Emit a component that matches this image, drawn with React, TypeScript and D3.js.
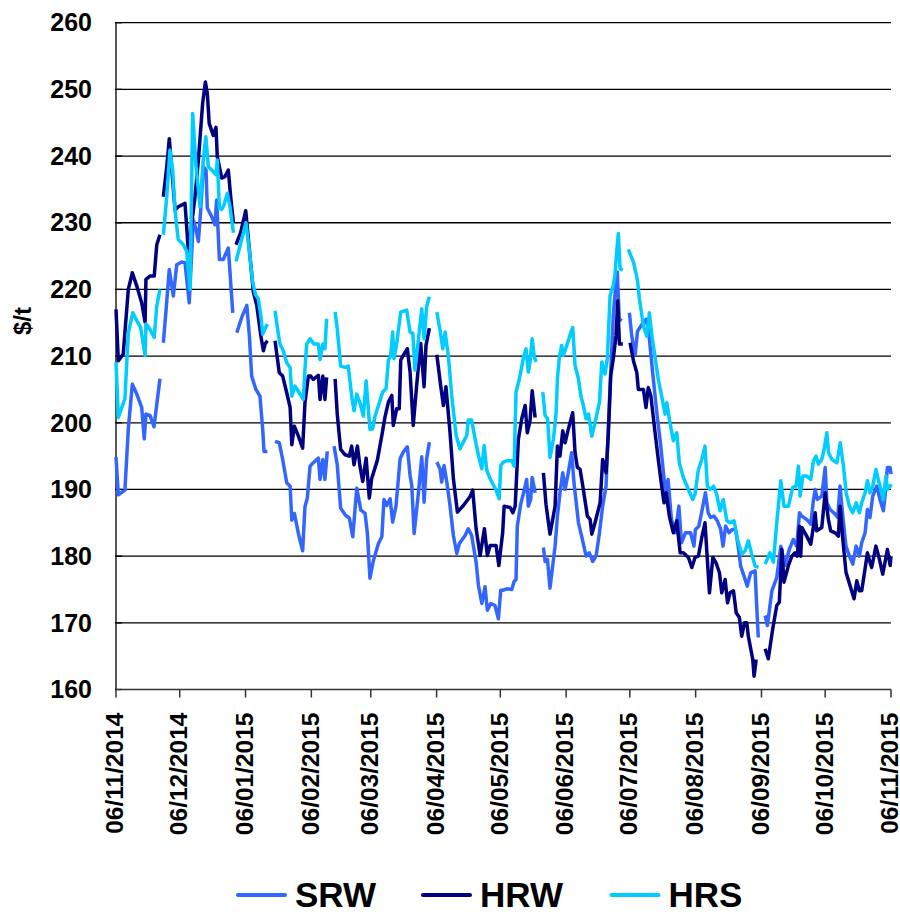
import React from "react";
import * as d3 from "d3";

// X tick labels (DD/MM/YYYY)
const xTickLabels = [
  "06/11/2014", "06/12/2014", "06/01/2015", "06/02/2015", "06/03/2015", "06/04/2015",
  "06/05/2015", "06/06/2015", "06/07/2015", "06/08/2015", "06/09/2015", "06/10/2015", "06/11/2015",
];
const yTicks = [160, 170, 180, 190, 200, 210, 220, 230, 240, 250, 260];
const seriesNames = ["SRW", "HRW", "HRS"];
const seriesColors = ["#3366FF", "#000080", "#00CCFF"];

// [days since 06/11/2014, $/t]  (null = missing day -> gap)
const SRW: [number, number | null][] = [
  [0, 194.9], [1.1, 189.2], [4.2, 189.9], [5.8, 199.1], [7.7, 205.8], [9.8, 204.3], [12.1, 202.3], [13.3, 197.6], [14.1, 201.3], [16.0, 201.1], [17.9, 199.4], [20.7, 206.6], [21.5, null],
  [22.3, 212.0], [23.6, 217.0], [25.1, 223.0], [27.0, 219.0], [28.6, 223.7], [30.9, 224.1], [32.5, 224.0], [34.5, 218.0], [36.4, 230.4], [37.7, 229.0], [38.8, 227.2], [39.9, 231.9], [41.1, 238.4], [42.4, 237.9], [43.0, 232.2], [45.1, 230.9], [46.6, 229.7], [47.4, 233.4], [48.7, 224.5], [50.5, 224.5], [52.9, 226.2], [55.0, 216.5], [55.8, null],
  [56.9, 213.5], [59.2, 215.8], [61.6, 217.6], [62.8, 213.1], [63.9, 207.0], [65.9, 205.0], [67.8, 204.0], [69.1, 199.0], [69.7, 195.7], [71.3, 195.7], [73, null],
  [74.9, 197.2], [76.9, 197.0], [78.5, 194.5], [80.4, 191.0], [82.0, 190.5], [82.8, 185.4], [84.0, 186.4], [85.9, 183.4], [87.9, 180.8], [89.0, 187.4], [90.1, 188.7], [91.4, 193.5], [92.9, 194.0], [95.3, 194.7], [96.1, 191.5], [97.4, 194.5], [98.4, 191.5], [99.5, 195.7], [101, null],
  [102.7, 196.5], [104.2, 193.7], [105.8, 187.2], [107.9, 186.2], [109.9, 185.7], [111.5, 182.9], [113.4, 190.2], [115.3, 186.9], [117.3, 186.4], [118.4, 183.4], [119.6, 176.7], [121.2, 179.3], [123.6, 181.9], [125.2, 182.9], [126.2, 188.5], [127.5, 187.6], [129.1, 188.6], [130.3, 185.1], [131.9, 187.6], [133.8, 194.6], [135.3, 195.6], [137.2, 196.4], [138.5, 192.1], [139.3, 190.6], [140.4, 183.4], [142.4, 189.4], [144.0, 194.9], [145.1, 188.1], [146.3, 194.6], [147.6, 197.1], [149.5, null],
  [151.1, 194.1], [152.6, 193.1], [153.4, 191.1], [154.5, 193.6], [155.8, 191.1], [157.3, 187.6], [158.9, 183.1], [160.5, 180.4], [161.7, 181.9], [164.4, 183.1], [165.9, 184.1], [167.5, 183.1], [169.6, 179.1], [170.7, 175.6], [172.3, 172.9], [173.8, 175.4], [174.9, 171.9], [176.5, 172.9], [178.5, 172.6], [180.1, 170.6], [181.2, 174.9], [182.4, 174.9], [184.0, 175.1], [186.4, 175.0], [187.5, 176.2], [188.4, 176.5], [189.0, 184.5], [190.6, 187.8], [192.2, 189.8], [193.4, 191.5], [194.2, 187.5], [195.3, 188.5], [196.0, 191.8], [197.4, 189.5], [199, null],
  [201.3, 181.3], [202.1, 179.2], [203.2, 179.5], [204.4, 175.2], [206.8, 181.5], [207.9, 186.0], [209.1, 189.5], [210.4, 192.5], [211.5, 190.0], [213.0, 192.5], [214.6, 195.5], [215.7, 191.0], [217.8, 185.0], [219.3, 183.0], [221.4, 180.0], [222.9, 180.5], [224.5, 179.2], [226.1, 180.0], [227.7, 183.5], [229.2, 187.5], [230.8, 190.5], [231.9, 199.5], [233.0, 207.6], [234.2, 216.1], [235.5, 221.1], [236.1, 222.6], [237.0, 215.6], [238.2, 215.3], [240, null],
  [241.8, 216.5], [242.9, 213.0], [244.5, 210.2], [245.6, 213.7], [247.6, 214.7], [249.7, 215.5], [250.9, 213.7], [252.2, 209.3], [253.3, 205.8], [254.9, 201.0], [256.4, 197.0], [258.0, 192.0], [258.8, 189.5], [260.0, 191.5], [261.6, 185.5], [263.5, 183.5], [265.1, 187.5], [266.3, 182.0], [268.2, 183.5], [270.6, 183.5], [272.2, 181.5], [272.9, 184.0], [274.5, 184.5], [276.1, 187.0], [277.6, 189.5], [278.9, 186.5], [280.0, 185.8], [281.6, 186.0], [283.2, 185.3], [284.8, 184.0], [285.9, 181.5], [287.1, 184.5], [288.7, 183.5], [290.3, 184.0], [291.8, 184.0], [293.1, 181.3], [294.2, 178.5], [295.8, 177.0], [297.3, 175.5], [298.9, 177.5], [301.0, 177.8], [301.6, 173.5], [302.5, 167.8], [303.5, null],
  [305.7, 171.1], [306.8, 169.6], [308.9, 174.8], [311.2, 176.8], [313.1, 181.5], [315.1, 178.6], [317.1, 181.0], [319.0, 182.5], [320.6, 181.5], [321.9, 186.5], [323.0, 186.0], [325.3, 185.5], [327.2, 184.8], [328.5, 188.5], [329.3, 190.0], [330.3, 188.5], [332.4, 189.0], [334.0, 193.3], [334.8, 188.0], [336.3, 187.0], [338.7, 186.3], [339.9, 185.8], [341.0, 190.5], [342.3, 186.0], [343.8, 181.5], [345.4, 180.0], [347.0, 178.8], [348.6, 181.5], [350.1, 180.0], [351.2, 182.0], [352.8, 183.5], [353.9, 187.0], [355.1, 185.8], [356.4, 189.0], [358.3, 190.5], [359.8, 188.5], [361.4, 186.8], [362.2, 189.0], [363.3, 193.3], [364.6, 193.3], [365, 192.3],
];

const HRW: [number, number | null][] = [
  [0, 217.0], [1.1, 209.3], [3.4, 210.3], [5.8, 220.0], [7.7, 222.5], [9.8, 220.5], [12.1, 218.0], [13.7, 215.1], [14.1, 221.5], [16.0, 222.0], [18.0, 222.0], [19.2, 226.7], [20.7, 228.2], [21.5, null],
  [22.3, 233.9], [23.9, 238.4], [25.1, 242.6], [26.2, 238.4], [27.8, 231.9], [29.3, 232.4], [32.5, 232.9], [34.1, 225.7], [37.2, 233.9], [38.8, 239.4], [40.8, 247.9], [42.1, 251.1], [43.0, 249.4], [43.9, 244.9], [45.8, 243.1], [47.1, 244.3], [47.7, 239.9], [49.8, 236.7], [51.3, 236.9], [52.9, 237.9], [54.0, 233.9], [55.3, 230.0], [55.9, null],
  [56.5, 226.7], [58.7, 228.5], [61.1, 231.8], [62.8, 226.0], [64.7, 219.6], [66.3, 217.6], [68.2, 213.1], [69.4, 210.8], [70.2, 211.8], [71.3, 212.3], [73, null],
  [74.9, 212.3], [76.9, 207.5], [78.5, 207.0], [80.4, 204.5], [82.0, 202.3], [82.8, 196.7], [84.0, 199.5], [85.9, 198.0], [87.9, 196.2], [89.0, 203.0], [90.6, 207.0], [91.7, 207.0], [92.9, 206.5], [95.3, 207.1], [96.1, 203.5], [97.4, 207.0], [98.4, 203.5], [99.2, 206.8], [101, null],
  [103.2, 206.6], [104.2, 201.3], [105.8, 196.0], [107.9, 195.2], [109.9, 195.0], [111.0, 196.5], [112.1, 193.7], [113.7, 196.5], [114.9, 193.5], [116.2, 191.2], [117.8, 194.7], [119.3, 188.7], [120.4, 191.6], [123.1, 194.4], [125.2, 198.1], [126.7, 200.9], [128.3, 203.1], [129.9, 204.1], [130.6, 199.6], [132.2, 202.1], [133.4, 202.1], [134.1, 209.4], [135.3, 210.1], [137.2, 211.1], [138.5, 207.6], [140.0, 199.6], [141.6, 205.6], [143.5, 211.9], [145.1, 205.4], [146.0, 211.6], [147.6, 214.2], [149.5, null],
  [151.1, 210.2], [152.9, 205.6], [154.2, 202.6], [155.4, 205.4], [157.3, 198.6], [158.9, 191.6], [160.8, 186.6], [163.6, 187.6], [166.7, 188.9], [168.0, 189.9], [169.6, 184.1], [171.5, 180.1], [173.5, 184.1], [174.9, 180.1], [176.2, 181.6], [179.0, 181.6], [180.3, 178.6], [182.1, 183.5], [182.8, 187.5], [185.6, 187.3], [186.9, 186.5], [188.0, 187.5], [189.5, 197.5], [191.1, 200.6], [192.7, 202.6], [193.7, 198.5], [195.0, 200.3], [196.0, 204.8], [197.4, 200.8], [199, null],
  [201.3, 192.5], [202.5, 187.8], [204.4, 183.3], [206.8, 187.5], [207.9, 196.5], [209.1, 195.0], [210.4, 198.8], [211.5, 197.0], [213.0, 199.0], [215.1, 201.5], [216.2, 195.5], [217.3, 193.3], [218.6, 193.0], [220.1, 190.0], [222.0, 186.0], [223.3, 185.5], [224.1, 183.3], [225.6, 185.0], [228.0, 188.0], [229.2, 194.5], [230.8, 192.5], [231.9, 198.5], [233.0, 207.1], [234.2, 209.6], [235.5, 213.1], [236.3, 218.3], [237.1, 211.8], [238.7, 211.8], [240, null],
  [242.1, 212.0], [243.7, 209.3], [245.3, 207.5], [246.0, 205.0], [248.4, 205.0], [249.6, 202.3], [250.7, 205.3], [251.9, 204.0], [253.9, 198.5], [255.4, 194.5], [257.0, 190.5], [258.1, 188.0], [259.1, 189.5], [260.6, 186.0], [262.5, 183.5], [264.1, 185.3], [265.7, 180.5], [267.2, 180.5], [269.6, 179.8], [271.2, 178.3], [272.7, 179.8], [274.3, 180.0], [275.9, 182.8], [277.4, 185.0], [279.5, 174.5], [281.1, 179.8], [282.6, 179.0], [284.2, 177.5], [285.3, 174.5], [286.9, 176.5], [288.0, 173.0], [289.2, 174.5], [290.8, 174.8], [292.1, 171.5], [293.6, 170.8], [294.7, 168.0], [296.0, 170.0], [297.1, 170.0], [297.8, 168.0], [299.0, 166.0], [299.9, 164.5], [300.5, 162.0], [301.5, 164.5], [303, null],
  [305.7, 166.1], [307.2, 164.6], [309.3, 169.1], [311.2, 172.6], [312.4, 173.1], [313.6, 181.0], [314.6, 176.1], [316.7, 178.6], [318.3, 180.0], [319.8, 180.5], [320.9, 180.0], [321.9, 184.5], [322.5, 180.0], [323.0, 184.3], [325.3, 183.0], [327.2, 181.8], [328.5, 184.5], [329.3, 186.5], [330.0, 183.8], [332.4, 184.3], [334.0, 189.5], [335.5, 185.5], [336.6, 183.8], [338.7, 183.5], [340.2, 183.0], [341.0, 187.5], [342.3, 182.5], [343.8, 177.6], [345.7, 175.6], [347.6, 173.6], [348.9, 176.3], [350.1, 174.8], [351.2, 174.8], [352.8, 178.1], [353.9, 180.5], [355.1, 179.1], [355.9, 178.3], [357.9, 181.5], [359.5, 179.6], [361.1, 177.3], [362.2, 179.1], [363.3, 181.0], [364.6, 178.6], [365, 180.0],
];

const HRS: [number, number | null][] = [
  [0, 209.1], [1.1, 200.8], [4.2, 203.6], [5.8, 213.5], [7.9, 216.5], [9.8, 215.3], [11.6, 214.3], [13.7, 210.1], [14.1, 214.8], [16.0, 214.0], [18.0, 212.8], [19.2, 217.5], [20.7, 220.0], [21.5, null],
  [22.3, 228.2], [23.9, 233.9], [25.4, 240.9], [26.7, 237.9], [27.8, 231.9], [29.3, 227.5], [31.7, 226.7], [33.3, 225.7], [34.9, 220.0], [36.1, 246.4], [37.7, 238.4], [39.6, 232.4], [41.1, 239.4], [42.3, 242.9], [43.5, 238.4], [45.1, 237.9], [47.1, 237.2], [47.7, 239.4], [48.7, 232.2], [49.8, 232.0], [50.9, 232.7], [52.4, 234.4], [53.7, 232.4], [55.3, 228.5], [55.9, null],
  [56.5, 224.2], [58.4, 226.5], [61.2, 230.0], [63.1, 225.0], [64.3, 221.2], [65.7, 219.2], [67.0, 218.6], [68.2, 216.1], [69.1, 213.3], [70.2, 214.1], [71.3, 214.8], [73, null],
  [74.9, 216.8], [76.0, 214.3], [77.2, 211.8], [78.8, 210.8], [80.4, 209.0], [82.0, 208.3], [82.8, 204.0], [84.3, 205.5], [86.3, 204.5], [88.2, 203.5], [89.0, 208.0], [89.8, 211.8], [91.4, 212.6], [93.3, 211.8], [95.3, 211.8], [96.1, 209.5], [97.4, 211.8], [98.4, 211.1], [99.2, 215.6], [101, null],
  [103.2, 216.6], [104.2, 214.1], [105.8, 208.5], [107.9, 208.3], [109.4, 208.5], [111.0, 204.0], [112.1, 201.8], [113.4, 204.3], [114.9, 203.0], [116.5, 201.0], [117.8, 206.3], [119.6, 199.0], [120.9, 199.1], [122.0, 201.0], [123.6, 202.6], [125.6, 204.6], [127.2, 205.1], [128.3, 209.4], [129.4, 210.1], [130.3, 213.6], [130.9, 209.6], [132.2, 211.9], [134.1, 216.6], [136.9, 216.9], [138.5, 213.6], [139.8, 213.4], [140.8, 207.9], [142.4, 212.4], [144.0, 217.1], [145.1, 212.6], [146.3, 217.4], [147.6, 218.9], [149.5, null],
  [151.1, 216.6], [152.6, 213.9], [153.9, 211.1], [155.0, 213.6], [156.5, 210.1], [158.1, 204.1], [160.2, 198.1], [162.0, 196.1], [163.6, 197.1], [165.2, 198.1], [165.9, 200.4], [167.5, 200.4], [169.1, 197.6], [170.7, 195.1], [172.3, 193.1], [173.4, 196.6], [174.6, 192.9], [176.2, 191.6], [179.0, 189.9], [180.5, 188.6], [181.2, 193.6], [182.4, 194.1], [184.0, 194.3], [186.4, 194.3], [187.5, 193.5], [188.4, 204.6], [190.0, 206.6], [191.8, 209.6], [193.1, 211.1], [194.2, 207.6], [195.0, 209.1], [196.0, 212.6], [196.9, 210.1], [197.8, 209.1], [199.5, null],
  [201.0, 204.6], [202.1, 201.1], [203.3, 200.6], [204.4, 194.8], [206.0, 197.5], [207.3, 201.6], [207.9, 206.6], [208.8, 209.8], [209.9, 211.6], [210.7, 210.1], [212.3, 211.6], [213.8, 213.1], [215.1, 214.3], [216.2, 208.6], [217.8, 206.6], [218.9, 204.1], [220.1, 202.6], [221.4, 200.6], [222.5, 201.3], [224.1, 198.0], [225.6, 200.0], [227.7, 203.1], [228.8, 209.1], [230.3, 207.3], [231.4, 209.6], [232.7, 219.1], [234.2, 220.6], [235.0, 222.1], [235.8, 225.6], [236.6, 228.4], [237.4, 223.1], [238.7, 222.9], [240, null],
  [241.3, 226.0], [243.7, 224.1], [245.6, 221.4], [246.5, 218.6], [248.4, 214.5], [250.0, 213.0], [251.2, 216.5], [252.4, 213.0], [253.9, 209.8], [255.4, 206.5], [257.0, 204.0], [258.6, 201.3], [259.4, 203.0], [260.9, 200.0], [262.5, 197.3], [264.1, 198.5], [265.3, 194.0], [267.2, 191.8], [269.6, 190.0], [271.6, 188.5], [272.7, 189.3], [274.3, 193.0], [275.9, 194.5], [277.4, 196.5], [278.5, 190.5], [279.8, 190.0], [281.4, 190.5], [282.9, 189.3], [284.5, 186.8], [286.0, 188.5], [287.7, 185.3], [289.2, 185.0], [291.1, 185.3], [292.7, 182.5], [294.7, 180.3], [296.3, 180.8], [297.8, 182.3], [299.4, 180.3], [301.0, 178.5], [302.6, 178.3], [304, null],
  [305.7, 178.8], [308.0, 180.5], [309.6, 179.1], [311.2, 185.0], [313.1, 191.3], [314.6, 187.5], [316.7, 187.5], [318.7, 190.3], [320.3, 190.5], [321.4, 193.5], [322.2, 189.0], [323.5, 192.0], [325.3, 192.0], [327.2, 191.5], [328.5, 194.3], [329.7, 195.0], [330.8, 193.8], [332.4, 194.5], [333.5, 196.0], [334.8, 198.5], [335.6, 195.5], [337.2, 194.5], [339.5, 194.0], [341.1, 197.0], [342.6, 193.5], [343.9, 189.5], [345.4, 187.5], [347.0, 186.5], [348.6, 188.0], [350.1, 186.5], [351.2, 188.0], [352.8, 189.5], [353.9, 191.3], [355.1, 189.5], [356.4, 190.5], [357.9, 193.0], [359.0, 191.5], [360.6, 189.5], [361.4, 188.5], [362.6, 192.0], [363.3, 190.0], [364.6, 190.5], [365, 190.8],
];

const allSeries = [SRW, HRW, HRS];

const W = 900;
const H = 915;
const M = { left: 116, right: 891, top: 22.7, bottom: 689.5 };

export default function App() {
  const parse = d3.utcParse("%d/%m/%Y");
  const tickDates = xTickLabels.map((s) => parse(s) as Date);
  const start = tickDates[0];
  const end = tickDates[tickDates.length - 1];
  const x = d3.scaleUtc().domain([start, end]).range([M.left, M.right]);
  const y = d3.scaleLinear().domain([160, 260]).range([M.bottom, M.top]);
  const dayMs = 86400000;
  const line = d3
    .line<[number, number | null]>()
    .defined((d) => d[1] != null)
    .x((d) => x(new Date(start.getTime() + d[0] * dayMs)))
    .y((d) => y(d[1] as number));

  const font = "'Liberation Sans', Arial, Helvetica, sans-serif";
  const legendX = [238, 423, 611.5];

  return (
    <svg width={W} height={H} style={{ position: "absolute", left: 0, top: 0, background: "#fff" }} fontFamily={font}>
      {/* gridlines */}
      {yTicks.filter((t) => t > 160).map((t) => (
        <line key={t} x1={M.left} x2={M.right} y1={y(t)} y2={y(t)} stroke="#000" strokeWidth={1.3} />
      ))}
      {/* y axis */}
      <line x1={M.left} x2={M.left} y1={M.top} y2={M.bottom} stroke="#000" strokeWidth={1.3} />
      {yTicks.map((t) => (
        <g key={"yl" + t}>
          <line x1={M.left - 1} x2={M.left + 6} y1={y(t)} y2={y(t)} stroke="#000" strokeWidth={1.3} />
          <text x={92} y={y(t)} dy="0.35em" textAnchor="end" fontSize={25} fontWeight="bold">{t}</text>
        </g>
      ))}
      {/* x axis */}
      <line x1={M.left} x2={M.right} y1={M.bottom} y2={M.bottom} stroke="#333" strokeWidth={1.5} />
      {tickDates.map((d, i) => (
        <g key={"xt" + i} transform={`translate(${x(d)},0)`}>
          <line y1={M.bottom} y2={M.bottom + 8} stroke="#333" strokeWidth={1.5} />
          <text transform={`translate(0,${M.bottom + 23}) rotate(-90)`} dy="0.3em" textAnchor="end" fontSize={24.5} fontWeight="bold">
            {xTickLabels[i]}
          </text>
        </g>
      ))}
      <text transform={`translate(22.5,321) rotate(-90)`} dy="0.35em" textAnchor="middle" fontSize={24} fontWeight="bold">$/t</text>
      {/* series */}
      {allSeries.map((s, i) => (
        <path key={seriesNames[i]} d={line(s) || ""} fill="none" stroke={seriesColors[i]} strokeWidth={3.5} strokeLinejoin="round" />
      ))}
      {/* legend */}
      {seriesNames.map((n, i) => (
        <g key={"lg" + n} transform={`translate(${legendX[i]},895)`}>
          <line x1={0} x2={47} y1={0} y2={0} stroke={seriesColors[i]} strokeWidth={4} strokeLinecap="round" />
          <text x={57} y={0} dy="0.35em" fontSize={35} fontWeight="bold">{n}</text>
        </g>
      ))}
    </svg>
  );
}
